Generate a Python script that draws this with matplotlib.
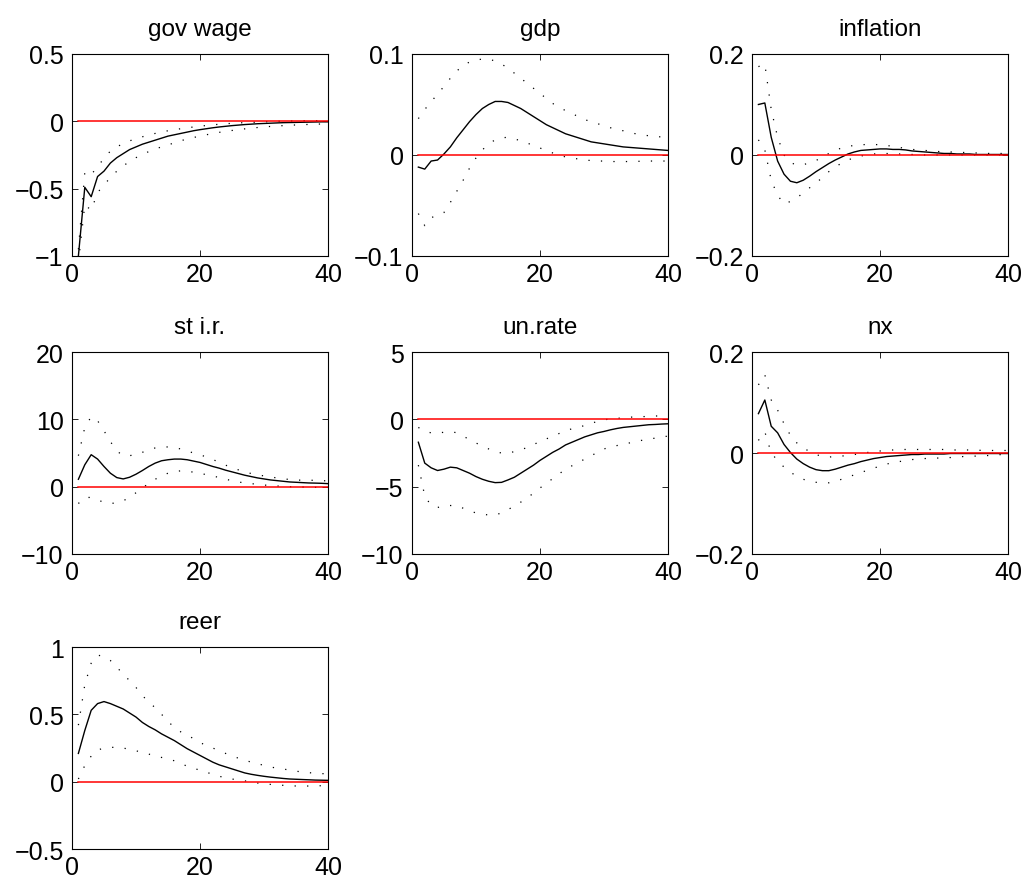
import matplotlib
matplotlib.use('Agg')
import matplotlib.pyplot as plt
from matplotlib.ticker import FuncFormatter

plt.rcParams['font.family'] = ['Liberation Sans', 'DejaVu Sans']

# horizon
periods = list(range(1, 41))

titles = ['gov wage', 'gdp', 'inflation', 'st i.r.', 'un.rate', 'nx', 'reer']
ylims = [(-1, 0.5), (-0.1, 0.1), (-0.2, 0.2), (-10, 20), (-10, 5), (-0.2, 0.2), (-0.5, 1)]
yticks = [[-1, -0.5, 0, 0.5], [-0.1, 0, 0.1], [-0.2, 0, 0.2], [-10, 0, 10, 20],
          [-10, -5, 0, 5], [-0.2, 0, 0.2], [-0.5, 0, 0.5, 1]]

# gov wage
govwage_med = [-1.00, -0.49, -0.56, -0.41, -0.37, -0.31, -0.27, -0.24, -0.21, -0.19,
               -0.17, -0.155, -0.14, -0.125, -0.11, -0.10, -0.09, -0.08, -0.07, -0.062,
               -0.055, -0.048, -0.042, -0.037, -0.032, -0.028, -0.024, -0.021, -0.018, -0.016,
               -0.014, -0.012, -0.010, -0.009, -0.008, -0.007, -0.006, -0.005, -0.004, -0.004]
govwage_up = [-0.95, -0.38, -0.40, -0.33, -0.28, -0.22, -0.19, -0.165, -0.145, -0.13,
              -0.115, -0.10, -0.09, -0.08, -0.07, -0.062, -0.055, -0.048, -0.042, -0.036,
              -0.031, -0.026, -0.022, -0.018, -0.015, -0.012, -0.01, -0.008, -0.006, -0.004,
              -0.002, 0.0, 0.001, 0.002, 0.003, 0.004, 0.004, 0.005, 0.005, 0.005]
govwage_lo = [-1.05, -0.62, -0.66, -0.53, -0.47, -0.42, -0.37, -0.33, -0.30, -0.27,
              -0.245, -0.225, -0.205, -0.19, -0.175, -0.16, -0.145, -0.13, -0.12, -0.11,
              -0.10, -0.09, -0.082, -0.075, -0.068, -0.062, -0.056, -0.051, -0.046, -0.042,
              -0.038, -0.035, -0.032, -0.029, -0.027, -0.025, -0.023, -0.021, -0.02, -0.019]

# gdp
gdp_med = [-0.012, -0.014, -0.006, -0.005, 0.001, 0.008, 0.017, 0.025, 0.033, 0.040,
           0.046, 0.050, 0.053, 0.053, 0.052, 0.049, 0.046, 0.042, 0.038, 0.034,
           0.030, 0.027, 0.024, 0.021, 0.019, 0.017, 0.015, 0.013, 0.012, 0.011,
           0.010, 0.009, 0.008, 0.0075, 0.007, 0.0065, 0.006, 0.0055, 0.005, 0.0045]
gdp_up = [0.036, 0.045, 0.053, 0.060, 0.068, 0.076, 0.083, 0.089, 0.092, 0.094,
          0.095, 0.095, 0.093, 0.090, 0.086, 0.081, 0.076, 0.071, 0.066, 0.061,
          0.056, 0.051, 0.047, 0.044, 0.041, 0.038, 0.035, 0.033, 0.031, 0.029,
          0.027, 0.025, 0.024, 0.022, 0.021, 0.020, 0.019, 0.018, 0.018, 0.017]
gdp_lo = [-0.058, -0.070, -0.062, -0.060, -0.057, -0.047, -0.036, -0.025, -0.013, -0.003,
          0.005, 0.011, 0.015, 0.017, 0.0175, 0.016, 0.014, 0.012, 0.009, 0.007,
          0.004, 0.002, 0.0, -0.002, -0.003, -0.004, -0.005, -0.0055, -0.006, -0.006,
          -0.0065, -0.0065, -0.0065, -0.0065, -0.0065, -0.006, -0.006, -0.006, -0.006, -0.006]

# inflation
infl_med = [0.100, 0.103, 0.035, -0.012, -0.038, -0.052, -0.055, -0.050, -0.042, -0.033,
            -0.025, -0.017, -0.010, -0.004, 0.002, 0.006, 0.009, 0.010, 0.011, 0.012,
            0.012, 0.011, 0.011, 0.010, 0.008, 0.007, 0.006, 0.005, 0.004, 0.003,
            0.003, 0.002, 0.002, 0.002, 0.001, 0.001, 0.001, 0.001, 0.001, 0.001]
infl_up = [0.175, 0.180, 0.090, 0.035, 0.0, -0.015, -0.020, -0.019, -0.016, -0.011,
           -0.004, 0.003, 0.009, 0.014, 0.017, 0.019, 0.020, 0.021, 0.021, 0.020,
           0.019, 0.017, 0.015, 0.013, 0.011, 0.010, 0.009, 0.008, 0.007, 0.006,
           0.006, 0.005, 0.005, 0.004, 0.004, 0.004, 0.003, 0.003, 0.003, 0.003]
infl_lo = [0.030, 0.010, -0.050, -0.080, -0.097, -0.092, -0.085, -0.075, -0.065, -0.055,
           -0.045, -0.033, -0.024, -0.016, -0.010, -0.005, -0.002, 0.0, 0.002, 0.003,
           0.003, 0.002, 0.002, 0.001, 0.001, 0.001, 0.0, 0.0, 0.0, 0.0,
           0.0, 0.0, 0.0, 0.0, 0.0, 0.0, 0.0, 0.0, 0.0, 0.0]

# st i.r.
stir_med = [1.1, 3.25, 4.75, 4.1, 3.0, 2.0, 1.35, 1.15, 1.4, 1.85,
            2.4, 3.0, 3.5, 3.85, 4.0, 4.1, 4.1, 4.0, 3.8, 3.6,
            3.3, 3.0, 2.75, 2.45, 2.2, 1.95, 1.7, 1.5, 1.3, 1.15,
            1.0, 0.9, 0.8, 0.7, 0.65, 0.6, 0.55, 0.53, 0.5, 0.45]
stir_up = [4.6, 8.8, 10.4, 9.8, 8.3, 6.7, 5.3, 4.6, 4.6, 4.8,
           5.1, 5.5, 5.75, 5.9, 5.9, 5.8, 5.6, 5.3, 5.0, 4.75,
           4.4, 4.05, 3.6, 3.2, 2.8, 2.5, 2.2, 1.95, 1.75, 1.6,
           1.45, 1.3, 1.2, 1.05, 1.0, 0.95, 0.95, 0.95, 0.9, 0.85]
stir_lo = [-2.5, -1.6, -1.6, -2.0, -2.3, -2.5, -2.4, -2.1, -1.6, -0.9,
           -0.2, 0.5, 1.1, 1.6, 2.0, 2.25, 2.35, 2.3, 2.15, 1.95,
           1.8, 1.6, 1.35, 1.1, 0.9, 0.7, 0.55, 0.45, 0.35, 0.25,
           0.15, 0.1, 0.05, 0.0, -0.05, -0.05, -0.1, -0.1, -0.1, -0.1]

# un.rate
unr_med = [-1.7, -3.25, -3.6, -3.8, -3.7, -3.55, -3.6, -3.8, -4.0, -4.25,
           -4.45, -4.6, -4.7, -4.68, -4.5, -4.3, -4.0, -3.7, -3.4, -3.05,
           -2.75, -2.45, -2.2, -1.9, -1.7, -1.5, -1.3, -1.15, -1.0, -0.9,
           -0.78, -0.68, -0.6, -0.55, -0.5, -0.45, -0.4, -0.38, -0.35, -0.33]
unr_up = [-0.6, -0.9, -1.0, -1.05, -0.95, -0.9, -1.0, -1.25, -1.5, -1.75,
          -2.0, -2.2, -2.4, -2.5, -2.5, -2.4, -2.25, -2.1, -1.9, -1.6,
          -1.45, -1.25, -1.05, -0.85, -0.7, -0.6, -0.45, -0.3, -0.15, -0.05,
          0.05, 0.08, 0.1, 0.15, 0.2, 0.2, 0.22, 0.25, 0.25, 0.25]
unr_lo = [-3.4, -5.7, -6.4, -6.55, -6.4, -6.4, -6.4, -6.6, -6.8, -6.95,
          -7.05, -7.1, -7.1, -6.95, -6.7, -6.45, -6.15, -5.8, -5.5, -5.1,
          -4.75, -4.4, -4.05, -3.7, -3.45, -3.2, -2.95, -2.7, -2.45, -2.2,
          -2.05, -1.95, -1.85, -1.75, -1.65, -1.55, -1.45, -1.4, -1.3, -1.25]

# nx
nx_med = [0.078, 0.105, 0.053, 0.040, 0.017, 0.001, -0.012, -0.021, -0.028, -0.033,
          -0.035, -0.035, -0.032, -0.028, -0.024, -0.021, -0.017, -0.014, -0.011, -0.009,
          -0.007, -0.006, -0.005, -0.004, -0.003, -0.003, -0.002, -0.002, -0.002, -0.002,
          -0.001, -0.001, -0.001, -0.001, -0.001, -0.001, -0.001, -0.001, -0.001, -0.001]
nx_up = [0.135, 0.155, 0.105, 0.085, 0.058, 0.035, 0.020, 0.010, 0.003, -0.003,
         -0.007, -0.008, -0.007, -0.006, -0.005, -0.003, -0.001, 0.001, 0.003, 0.004,
         0.006, 0.006, 0.007, 0.007, 0.007, 0.007, 0.007, 0.007, 0.007, 0.007,
         0.006, 0.006, 0.006, 0.006, 0.006, 0.005, 0.005, 0.005, 0.005, 0.005]
nx_lo = [0.025, 0.042, 0.0, -0.015, -0.028, -0.038, -0.046, -0.052, -0.056, -0.058,
         -0.059, -0.059, -0.056, -0.052, -0.048, -0.043, -0.039, -0.034, -0.030, -0.026,
         -0.022, -0.019, -0.017, -0.015, -0.013, -0.012, -0.011, -0.010, -0.010, -0.009,
         -0.009, -0.008, -0.007, -0.007, -0.006, -0.005, -0.005, -0.004, -0.003, -0.003]

# reer
reer_med = [0.21, 0.38, 0.53, 0.58, 0.595, 0.58, 0.56, 0.54, 0.51, 0.48,
            0.44, 0.41, 0.385, 0.355, 0.33, 0.305, 0.275, 0.245, 0.22, 0.195,
            0.17, 0.145, 0.125, 0.11, 0.095, 0.08, 0.065, 0.055, 0.047, 0.04,
            0.034, 0.029, 0.024, 0.02, 0.018, 0.016, 0.014, 0.012, 0.011, 0.01]
reer_up = [0.42, 0.72, 0.88, 0.94, 0.93, 0.90, 0.85, 0.80, 0.75, 0.70,
           0.64, 0.59, 0.55, 0.50, 0.45, 0.40, 0.37, 0.345, 0.32, 0.29,
           0.27, 0.25, 0.23, 0.21, 0.19, 0.175, 0.16, 0.145, 0.135, 0.12,
           0.11, 0.10, 0.095, 0.085, 0.078, 0.072, 0.067, 0.063, 0.06, 0.058]
reer_lo = [0.02, 0.12, 0.19, 0.235, 0.25, 0.255, 0.255, 0.25, 0.24, 0.23,
           0.215, 0.205, 0.19, 0.18, 0.17, 0.155, 0.135, 0.115, 0.10, 0.085,
           0.07, 0.055, 0.04, 0.03, 0.02, 0.012, 0.006, 0.0, -0.01, -0.016,
           -0.02, -0.024, -0.027, -0.03, -0.032, -0.033, -0.032, -0.031, -0.03, -0.03]

medians = [govwage_med, gdp_med, infl_med, stir_med, unr_med, nx_med, reer_med]
uppers = [govwage_up, gdp_up, infl_up, stir_up, unr_up, nx_up, reer_up]
lowers = [govwage_lo, gdp_lo, infl_lo, stir_lo, unr_lo, nx_lo, reer_lo]

fig = plt.figure(figsize=(10.24, 8.87), dpi=100)

lefts = [0.0703, 0.4023, 0.7344]
bottoms = [0.7103, 0.3743, 0.0417]
w, h = 0.25, 0.2277

fmt = FuncFormatter(lambda v, p: ('%g' % v).replace('-', '\u2212'))

for i in range(7):
    r, c = divmod(i, 3)
    ax = fig.add_axes([lefts[c], bottoms[r], w, h])
    ax.plot(periods, medians[i], color='k', lw=1)
    ax.plot(periods, uppers[i], color='k', lw=0.9, linestyle=(0, (1, 9)))
    ax.plot(periods, lowers[i], color='k', lw=0.9, linestyle=(0, (1, 9)))
    ax.plot(periods, [0] * len(periods), color='r', lw=1.1)
    ax.set_xlim(0, 40)
    ax.set_ylim(*ylims[i])
    ax.set_xticks([0, 20, 40])
    ax.set_yticks(yticks[i])
    ax.xaxis.set_major_formatter(fmt)
    ax.yaxis.set_major_formatter(fmt)
    ax.tick_params(direction='in', top=True, right=True, length=4, width=0.6,
                   labelsize=18, pad=6)
    ax.tick_params(axis='x', pad=4)
    for s in ax.spines.values():
        s.set_linewidth(0.8)
    ax.set_title(titles[i], fontsize=17.5, pad=14)

fig.savefig('out.png', dpi=100)
